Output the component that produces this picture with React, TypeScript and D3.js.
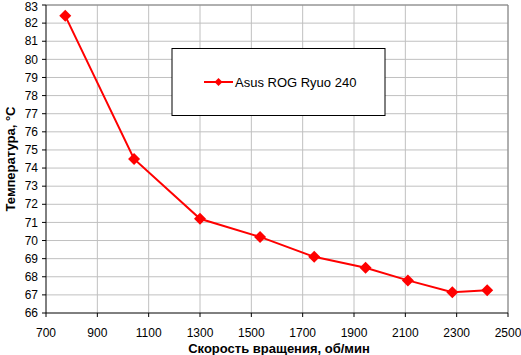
import * as d3 from "d3";

const SPEED = [775, 1043, 1300, 1534, 1745, 1945, 2110, 2283, 2419];
const TEMP = [82.4, 74.5, 71.2, 70.2, 69.1, 68.5, 67.8, 67.15, 67.25];
const X_TICKS = [700, 900, 1100, 1300, 1500, 1700, 1900, 2100, 2300, 2500];
const Y_TICKS = d3.range(66, 84);
const SERIES_NAME = "Asus ROG Ryuo 240";

const W = 521;
const H = 355;
const LEFT = 46;
const RIGHT = 508;
const TOP = 5;
const BOTTOM = 313;
const RED = "#ff0000";
const FONT = "'Liberation Sans', Arial, sans-serif";

const diamond = (cx: number, cy: number, r: number) =>
  `M${cx},${cy - r}L${cx + r},${cy}L${cx},${cy + r}L${cx - r},${cy}Z`;

export default function App() {
  const x = d3.scaleLinear().domain([700, 2500]).range([LEFT, RIGHT]);
  const y = d3.scaleLinear().domain([66, 83]).range([BOTTOM, TOP]);

  const pts = SPEED.map((s, i) => [x(s), y(TEMP[i])] as [number, number]);
  const line = d3.line()(pts) || "";

  return (
    <svg
      width={W}
      height={H}
      style={{ position: "absolute", left: 0, top: 0, background: "#fff" }}
      fontFamily={FONT}
    >
      {/* grid */}
      {X_TICKS.slice(1).map((t) => (
        <line key={"gx" + t} x1={x(t)} x2={x(t)} y1={TOP} y2={BOTTOM} stroke="#c0c0c0" />
      ))}
      {Y_TICKS.slice(1).map((t) => (
        <line key={"gy" + t} x1={LEFT} x2={RIGHT} y1={y(t)} y2={y(t)} stroke="#c0c0c0" />
      ))}
      <line x1={LEFT} x2={RIGHT} y1={TOP} y2={TOP} stroke="#808080" />
      <line x1={RIGHT} x2={RIGHT} y1={TOP} y2={BOTTOM} stroke="#808080" />

      {/* axes */}
      <line x1={LEFT} x2={LEFT} y1={TOP} y2={BOTTOM} stroke="#000" />
      <line x1={LEFT} x2={RIGHT} y1={BOTTOM} y2={BOTTOM} stroke="#000" />
      {Y_TICKS.map((t) => (
        <g key={"ty" + t}>
          <line x1={LEFT - 4} x2={LEFT} y1={y(t)} y2={y(t)} stroke="#000" />
          <text x={38} y={Math.max(y(t), 6.5)} dy="0.35em" textAnchor="end" fontSize={12}>
            {t}
          </text>
        </g>
      ))}
      {X_TICKS.map((t) => (
        <g key={"tx" + t}>
          <line x1={x(t)} x2={x(t)} y1={BOTTOM} y2={BOTTOM + 4} stroke="#000" />
          <text x={x(t)} y={333} dy="0.35em" textAnchor="middle" fontSize={12}>
            {t}
          </text>
        </g>
      ))}

      {/* titles */}
      <text x={279} y={348} dy="0.35em" textAnchor="middle" fontSize={13} fontWeight="bold">
        Скорость вращения, об/мин
      </text>
      <text
        transform={`translate(10,${(TOP + BOTTOM) / 2}) rotate(-90)`}
        dy="0.35em"
        textAnchor="middle"
        fontSize={13}
        fontWeight="bold"
      >
        Температура, °С
      </text>

      {/* series */}
      <path d={line} fill="none" stroke={RED} strokeWidth={2} />
      {pts.map(([px, py], i) => (
        <path key={"m" + i} d={diamond(px, py, 6)} fill={RED} />
      ))}

      {/* legend */}
      <rect x={172} y={48.5} width={213} height={67} fill="#fff" stroke="#000" />
      <line x1={204} x2={233} y1={82} y2={82} stroke={RED} strokeWidth={2} />
      <path d={diamond(218.5, 82, 4)} fill={RED} />
      <text x={235} y={82} dy="0.35em" fontSize={13}>
        {SERIES_NAME}
      </text>
    </svg>
  );
}
